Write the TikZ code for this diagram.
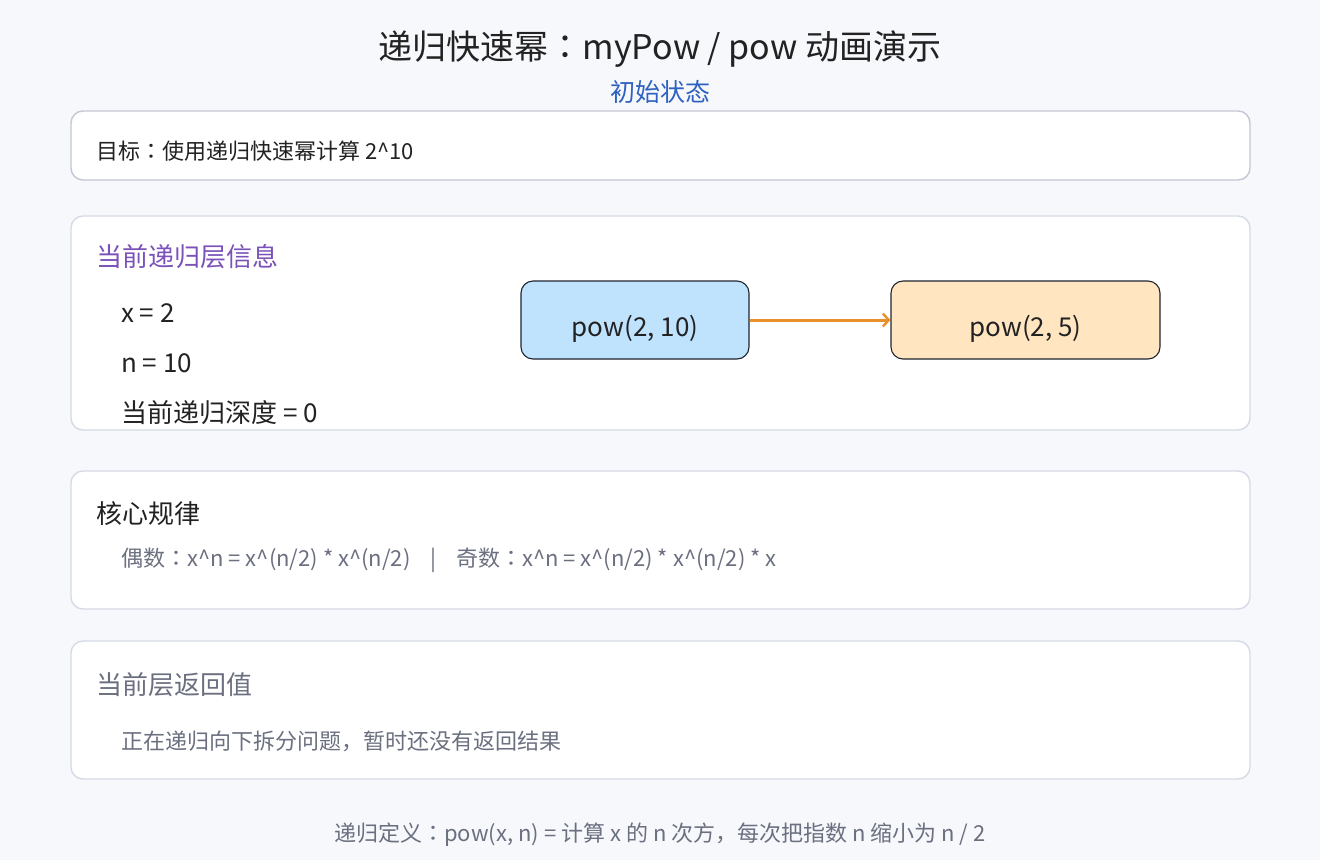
\documentclass[tikz,border=0pt]{standalone}
\usepackage{fontspec}
\setmainfont{Noto Sans CJK SC}
\newfontfamily\jpfont{Noto Sans CJK JP}
\newcommand{\jpc}{{\jpfont ：}}
\usetikzlibrary{arrows.meta}
\definecolor{bg}{HTML}{F7F8FC}
\definecolor{boxline}{HTML}{D6DAE6}
\definecolor{goalline}{HTML}{C4C7D3}
\definecolor{ink}{HTML}{222222}
\definecolor{subblue}{HTML}{2F62C0}
\definecolor{purp}{HTML}{7B52B9}
\definecolor{muted}{HTML}{6B7080}
\definecolor{nodeblue}{HTML}{BFE2FD}
\definecolor{nodeorange}{HTML}{FFE6C1}
\definecolor{arrorange}{HTML}{E8912A}
\definecolor{nodeline}{HTML}{1F2430}
\begin{document}
\begin{tikzpicture}[x=1pt,y=-1pt,
  panel/.style={draw=boxline,line width=1.4pt,fill=white,rounded corners=12pt},
  callnode/.style={draw=nodeline,line width=1.1pt,rounded corners=12pt,minimum width=228pt,minimum height=78pt,inner sep=0pt,text=ink,font=\fontsize{26}{30}\selectfont},
  lbl/.style={anchor=base west,inner sep=0pt},
  fs22/.style={font=\fontsize{22}{26}\selectfont},
  fs26/.style={font=\fontsize{26}{30}\selectfont},
  conn/.style={draw=arrorange,line width=3pt,-{Straight Barb[length=6pt,width=13pt,line width=2.4pt]}}
]
\fill[bg] (0,0) rectangle (1320,860);
\useasboundingbox (0,0) rectangle (1320,860);

% title
\node[anchor=base,inner sep=0pt,text=ink,font=\fontsize{34}{40}\selectfont] (title) at (660,59) {递归快速幂\jpc myPow / pow 动画演示};
\node[anchor=base,inner sep=0pt,text=subblue,font=\fontsize{25}{30}\selectfont] (sub) at (660,101) {初始状态};

% goal panel
\draw[panel,draw=goalline] (71,111) rectangle (1250,180);
\node[lbl,fs22,text=ink] (goal) at (96,159) {目标\jpc 使用递归快速幂计算 2\^{}10};

% info panel
\draw[panel] (71,216) rectangle (1250,430);
\node[lbl,fs26,text=purp] (infoh) at (96,266) {当前递归层信息};
\node[lbl,fs26,text=ink] (xv) at (121,322) {x = 2};
\node[lbl,fs26,text=ink] (nv) at (121,372) {n = 10};
\node[lbl,fs26,text=ink] (dv) at (121,422) {当前递归深度 = 0};

\node[callnode,fill=nodeblue] (p10) at (635,320) {\raisebox{-16pt}[0pt][0pt]{pow(2, 10)}};
\node[callnode,fill=nodeorange,minimum width=269pt] (p5) at (1025.5,320) {\raisebox{-16pt}[0pt][0pt]{pow(2, 5)}};
\draw[conn] (p10.east) -- (p5.west);

% core panel
\draw[panel] (71,471) rectangle (1250,609);
\node[lbl,fs26,text=ink] (coreh) at (96,523) {核心规律};
\node[lbl,fs22,text=muted] (rule) at (121,566) {偶数\jpc x\^{}n = x\^{}(n/2) * x\^{}(n/2)\hspace{0.9em}|\hspace{0.9em}奇数\jpc x\^{}n = x\^{}(n/2) * x\^{}(n/2) * x};

% return panel
\draw[panel] (71,641) rectangle (1250,779);
\node[lbl,fs26,text=muted] (reth) at (96,694) {当前层返回值};
\node[lbl,fs22,text=muted] (retv) at (121,749) {正在递归向下拆分问题，暂时还没有返回结果};

% footer
\node[anchor=base,inner sep=0pt,fs22,text=muted] (foot) at (660,841) {递归定义\jpc pow(x, n) = 计算 x 的 n 次方，每次把指数 n 缩小为 n / 2};
\end{tikzpicture}
\end{document}
